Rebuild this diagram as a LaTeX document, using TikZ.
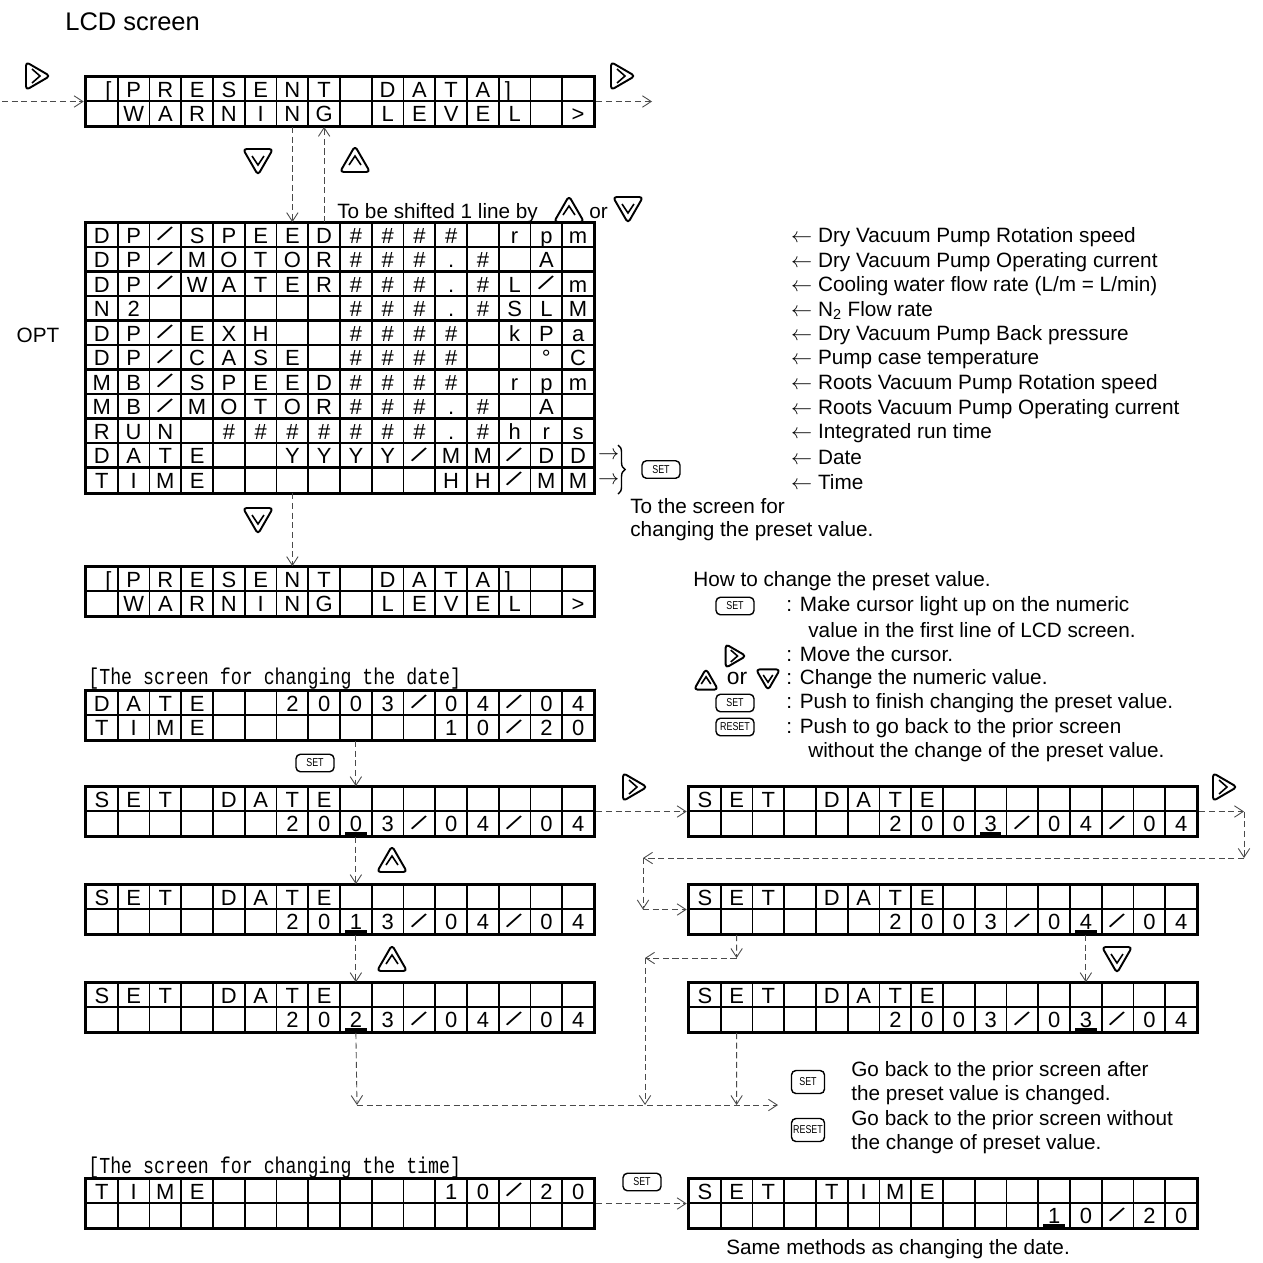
\documentclass[tikz,border=0pt]{standalone}
\usepackage{fontspec}
\setmainfont{Liberation Sans}
\newfontfamily\lcdmono{Liberation Mono}
\usepackage{graphicx}
\usetikzlibrary{arrows.meta,positioning,calc,fit,decorations.pathreplacing}
\definecolor{cInk}{HTML}{000000}
\definecolor{cDash}{HTML}{4A4A4A}
\tikzset{
  cell/.style={draw=cInk,line width=0.95pt,minimum width=0.635cm,minimum height=0.49cm,inner sep=0pt,text height=8.9pt,text depth=0pt,font=\fontsize{12.5}{12.5}\selectfont,text=cInk},
  lcdbox/.style={draw=cInk,line width=1.7pt,inner sep=0pt},
  rowsep/.style={draw=cInk,line width=1.3pt},
  cursor/.style={draw=cInk,line width=1.6pt},
  dconn/.style={-{Straight Barb[length=5pt,width=6.5pt]},dash pattern=on 3.5pt off 2pt,line width=0.5pt,color=cDash},
  keyline/.style={draw=cInk,line width=1.1pt,rounded corners=2pt,line join=round},
  chev/.style={draw=cInk,line width=0.9pt},
  setkey/.style={draw=cInk,line width=0.8pt,rounded corners=2.5pt,minimum width=0.76cm,minimum height=0.35cm,inner sep=0pt,font=\fontsize{6.5}{6.5}\selectfont},
  tallkey/.style={setkey,minimum width=0.66cm,minimum height=0.46cm},
  desc/.style={font=\fontsize{11.8}{13}\selectfont,anchor=west,inner sep=0pt},
  capt/.style={font=\lcdmono\fontsize{13}{13}\selectfont,anchor=west,inner sep=0pt},
  brc/.style={decorate,decoration={brace,amplitude=4pt},line width=0.8pt},
  pics/rightkey/.style={code={
    \draw[keyline] (-11,-14) -- (13,0) -- (-11,14) -- cycle;
    \draw[chev] (-5,-7) -- (3,0) -- (-5,7);
  }},
  pics/upkey/.style={code={
    \draw[keyline] (-15,12) -- (0,-14) -- (15,12) -- cycle;
    \draw[chev] (-6,5) -- (0,-4) -- (6,5);
  }},
  pics/downkey/.style={code={
    \draw[keyline] (-15,-12) -- (0,14) -- (15,-12) -- cycle;
    \draw[chev] (-6,-5) -- (0,4) -- (6,-5);
  }},
}
% shallow LCD slash, narrow key and caption text
\newcommand{\sla}{\rotatebox[origin=c]{-33}{\scalebox{1.15}{/}}}
\newcommand{\keytxt}[1]{\scalebox{0.78}[1]{#1}}
\newcommand{\narrowtxt}[1]{\scalebox{0.8}[1]{#1}}
% one row of 16 cells: name, left x, top y, row, characters
\newcommand{\lcdrow}[5]{%
  \foreach \chr [count=\cidx] in {#5} {
    \node[cell] (#1-#4-\cidx) at ({#2+(\cidx-0.5)*31.75},{#3+(#4-0.5)*24.5}) {\chr};
  }}
% frame round a screen: name, rows
\newcommand{\lcdframe}[2]{%
  \node[lcdbox,fit=(#1-1-1)(#1-#2-16)] (#1) {};
  \foreach \ridx in {2,...,#2} {\draw[rowsep] (#1-\ridx-1.north west) -- (#1-\ridx-16.north east);}
}
\newcommand{\lcdcursor}[3]{\draw[cursor] ($(#1-#2-#3.south west)+(6,-3.5)$) -- ($(#1-#2-#3.south east)+(-6,-3.5)$);}

\begin{document}
\begin{tikzpicture}[x=0.02cm,y=-0.02cm]
\useasboundingbox (0,0) rectangle (1263,1262);

\node[anchor=west,font=\fontsize{14.5}{16}\selectfont,inner sep=0pt] (lcdtitle) at (65,22) {LCD screen};

% present data screen
\lcdrow{pdA}{86}{77}{1}{\hspace*{0.6em}[,P,R,E,S,E,N,T,{},D,A,T,A,]\hspace*{0.6em},{},{}}
\lcdrow{pdA}{86}{77}{2}{{},W,A,R,N,I,N,G,{},L,E,V,E,L,{},>}
\lcdframe{pdA}{2}
\pic (kR1) at (37,76) {rightkey};
\pic (kR2) at (622,76) {rightkey};
\coordinate (inL) at (2,101.5);
\coordinate (outR) at (652,101.5);
\draw[dconn] (inL) -- (pdA.west);
\draw[dconn] (pdA.east) -- (outR);
\pic (kD1) at (258,161) {downkey};
\pic (kU1) at (355,160) {upkey};

% data list
\node[desc] (shifttxt) at (337,213) {To be shifted 1 line by};
\pic (kU2) at (569,210) {upkey};
\node[desc] (shiftor) at (589,213) {or};
\pic (kD2) at (628,209) {downkey};
\lcdrow{big}{86}{223}{1}{D,P,\sla,S,P,E,E,D,\#,\#,\#,\#,{},r,p,m}
\lcdrow{big}{86}{223}{2}{D,P,\sla,M,O,T,O,R,\#,\#,\#,.,\#,{},A,{}}
\lcdrow{big}{86}{223}{3}{D,P,\sla,W,A,T,E,R,\#,\#,\#,.,\#,L,\sla,m}
\lcdrow{big}{86}{223}{4}{N,2,{},{},{},{},{},{},\#,\#,\#,.,\#,S,L,M}
\lcdrow{big}{86}{223}{5}{D,P,\sla,E,X,H,{},{},\#,\#,\#,\#,{},k,P,a}
\lcdrow{big}{86}{223}{6}{D,P,\sla,C,A,S,E,{},\#,\#,\#,\#,{},{},°,C}
\lcdrow{big}{86}{223}{7}{M,B,\sla,S,P,E,E,D,\#,\#,\#,\#,{},r,p,m}
\lcdrow{big}{86}{223}{8}{M,B,\sla,M,O,T,O,R,\#,\#,\#,.,\#,{},A,{}}
\lcdrow{big}{86}{223}{9}{R,U,N,{},\#,\#,\#,\#,\#,\#,\#,.,\#,h,r,s}
\lcdrow{big}{86}{223}{10}{D,A,T,E,{},{},Y,Y,Y,Y,\sla,M,M,\sla,D,D}
\lcdrow{big}{86}{223}{11}{T,I,M,E,{},{},{},{},{},{},{},H,H,\sla,M,M}
\lcdframe{big}{11}
\node[font=\fontsize{11.8}{13}\selectfont] (opt) at (38,335) {OPT};
\draw[dconn] (pdA-2-7.south) -- (big-1-7.north);
\draw[dconn] (big-1-8.north) -- (pdA-2-8.south);
\foreach \t [count=\i] in {{Dry Vacuum Pump Rotation speed},{Dry Vacuum Pump Operating current},{Cooling water flow rate (L/m = L/min)},{N\textsubscript{2} Flow rate},{Dry Vacuum Pump Back pressure},{Pump case temperature},{Roots Vacuum Pump Rotation speed},{Roots Vacuum Pump Operating current},{Integrated run time},{Date},{Time}}{
  \node[desc] (desc\i) at ($(big-\i-16.east)+(196,2)$) {$\leftarrow$\ \t};
}
\node[desc] (arD) at ($(big-10-16.east)+(3,0)$) {$\rightarrow$};
\node[desc] (arT) at ($(big-11-16.east)+(3,0)$) {$\rightarrow$};
\coordinate (brT) at (618,445);
\coordinate (brB) at (618,494);
\draw[brc] (brT) -- (brB);
\node[setkey] (brset) at (661,469.5) {\keytxt{SET}};
\node[desc] (toscr1) at (630,506) {To the screen for};
\node[desc] (toscr2) at (630,531) {changing the preset value.};

% back to present data
\pic (kD3) at (258,520) {downkey};
\lcdrow{pdB}{86}{567}{1}{\hspace*{0.6em}[,P,R,E,S,E,N,T,{},D,A,T,A,]\hspace*{0.6em},{},{}}
\lcdrow{pdB}{86}{567}{2}{{},W,A,R,N,I,N,G,{},L,E,V,E,L,{},>}
\lcdframe{pdB}{2}
\draw[dconn] (big-11-7.south) -- (pdB-1-7.north);

% how to change
\node[desc] (howto) at (693,581) {How to change the preset value.};
\node[setkey] (lgset1) at (735,606) {\keytxt{SET}};
\node[desc] (lg1) at (786,606) {: Make cursor light up on the numeric};
\node[desc] (lg1b) at (808,630) {value in the first line of LCD screen.};
\pic[scale=0.85] (lgright) at (735,656) {rightkey};
\node[desc] (lg2) at (786,654) {: Move the cursor.};
\pic[scale=0.8] (lgup) at (706,680) {upkey};
\node[font=\fontsize{13}{13}\selectfont,inner sep=0pt] (lgor) at (737,678) {or};
\pic[scale=0.8] (lgdown) at (768,679) {downkey};
\node[desc] (lg3) at (786,679) {: Change the numeric value.};
\node[setkey] (lgset2) at (735,703) {\keytxt{SET}};
\node[desc] (lg4) at (786,703) {: Push to finish changing the preset value.};
\node[setkey] (lgreset) at (735,727) {\keytxt{RESET}};
\node[desc] (lg5) at (786,728) {: Push to go back to the prior screen};
\node[desc] (lg5b) at (808,752) {without the change of the preset value.};

% date screens
\node[capt] (capdate) at (88,679) {\narrowtxt{[The screen for changing the date]}};
\lcdrow{dt}{86}{691}{1}{D,A,T,E,{},{},2,0,0,3,\sla,0,4,\sla,0,4}
\lcdrow{dt}{86}{691}{2}{T,I,M,E,{},{},{},{},{},{},{},1,0,\sla,2,0}
\lcdframe{dt}{2}
\node[setkey] (dtset) at (315,763) {\keytxt{SET}};
\foreach \nm/\xx/\yy/\dg/\cc/\mo in {sdA/86/787/0/9/4,sdB/86/885/1/9/4,sdC/86/983/2/9/4,sdD/689/787/0/10/4,sdE/689/885/0/13/4,sdF/689/983/0/13/3}{
  \lcdrow{\nm}{\xx}{\yy}{1}{S,E,T,{},D,A,T,E,{},{},{},{},{},{},{},{}}
  \lcdrow{\nm}{\xx}{\yy}{2}{{},{},{},{},{},{},2,0,\dg,3,\sla,0,\mo,\sla,0,4}
  \lcdframe{\nm}{2}
  \lcdcursor{\nm}{2}{\cc}
}
\pic (kR3) at (634,787) {rightkey};
\pic (kR4) at (1224,787) {rightkey};
\pic (kU3) at (392,860) {upkey};
\pic (kU4) at (392,959) {upkey};
\pic (kD4) at (1117,959) {downkey};
\draw[dconn] (dt-2-9.south) -- (sdA-1-9.north);
\draw[dconn] (sdA-2-9.south) -- (sdB-1-9.north);
\draw[dconn] (sdB-2-9.south) -- (sdC-1-9.north);
\draw[dconn] (sdA.east) -- (sdD.west);
\coordinate (c1) at (1244,811.5);
\coordinate (c2) at (1244,858);
\coordinate (c3) at (643,858);
\coordinate (c4) at (643,909.5);
\draw[dconn] (sdD.east) -- (c1);
\draw[dconn] (c1) -- (c2);
\draw[dconn] (c2) -- (c3);
\draw[dconn] (c3) -- (c4);
\draw[dconn] (c4) -- (sdE.west);
\draw[dconn] (sdE-2-13.south) -- (sdF-1-13.north);
\coordinate (c5) at (357,1105);
\coordinate (c6) at (778,1105);
\coordinate (c7) at (736.6,958);
\coordinate (c8) at (645,958);
\coordinate (c9) at (645,1105);
\coordinate (c10) at (736.6,1105);
\draw[dconn] (sdC-2-9.south) -- (c5);
\draw[dconn] (c5) -- (c6);
\draw[dconn] (sdE-2-2.south) -- (c7);
\draw[dconn] (c7) -- (c8);
\draw[dconn] (c8) -- (c9);
\draw[dconn] (sdF-2-2.south) -- (c10);
\node[tallkey] (bkset) at (808,1082) {\keytxt{SET}};
\node[tallkey] (bkreset) at (808,1130) {\keytxt{RESET}};
\node[desc] (bk1) at (851,1071) {Go back to the prior screen after};
\node[desc] (bk2) at (851,1095) {the preset value is changed.};
\node[desc] (bk3) at (851,1120) {Go back to the prior screen without};
\node[desc] (bk4) at (851,1144) {the change of preset value.};

% time screens
\node[capt] (captime) at (88,1168) {\narrowtxt{[The screen for changing the time]}};
\lcdrow{tmA}{86}{1179}{1}{T,I,M,E,{},{},{},{},{},{},{},1,0,\sla,2,0}
\lcdrow{tmA}{86}{1179}{2}{{},{},{},{},{},{},{},{},{},{},{},{},{},{},{},{}}
\lcdframe{tmA}{2}
\lcdrow{tmB}{689}{1179}{1}{S,E,T,{},T,I,M,E,{},{},{},{},{},{},{},{}}
\lcdrow{tmB}{689}{1179}{2}{{},{},{},{},{},{},{},{},{},{},{},1,0,\sla,2,0}
\lcdframe{tmB}{2}
\lcdcursor{tmB}{2}{12}
\node[setkey] (tmset) at (642,1182) {\keytxt{SET}};
\draw[dconn] (tmA.east) -- (tmB.west);
\node[desc] (same) at (726,1249) {Same methods as changing the date.};
\end{tikzpicture}
\end{document}
